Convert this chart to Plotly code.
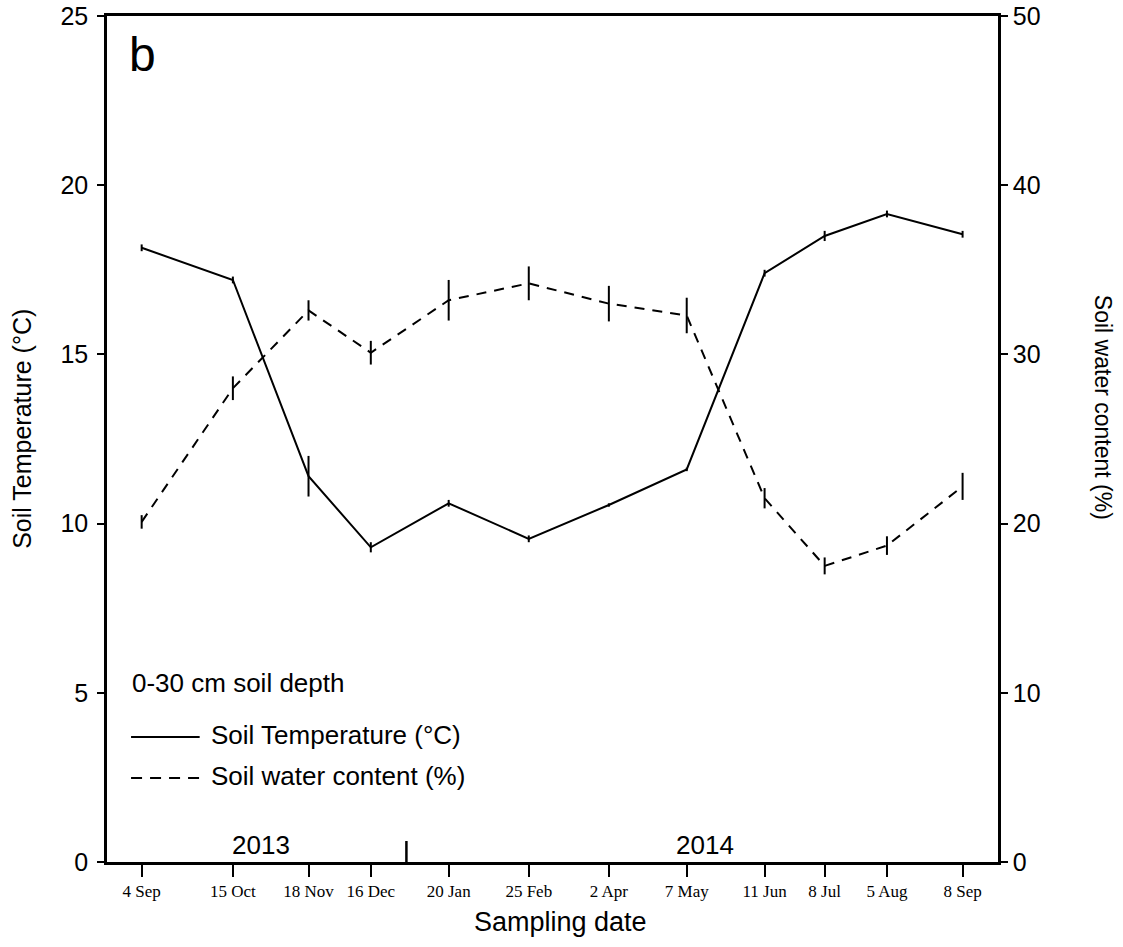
import plotly.graph_objects as go

dates = ["2013-09-04", "2013-10-15", "2013-11-18", "2013-12-16", "2014-01-20", "2014-02-25",
         "2014-04-02", "2014-05-07", "2014-06-11", "2014-07-08", "2014-08-05", "2014-09-08"]
tick_labels = ["4 Sep", "15 Oct", "18 Nov", "16 Dec", "20 Jan", "25 Feb",
               "2 Apr", "7 May", "11 Jun", "8 Jul", "5 Aug", "8 Sep"]
soil_temp = [18.15, 17.2, 11.4, 9.3, 10.6, 9.55, 10.55, 11.6, 17.4, 18.5, 19.15, 18.55]
soil_temp_err = [0.1, 0.1, 0.6, 0.15, 0.1, 0.1, 0.05, 0.05, 0.1, 0.15, 0.1, 0.1]
water = [20.1, 28.0, 32.6, 30.1, 33.2, 34.2, 33.0, 32.3, 21.5, 17.5, 18.7, 22.2]
water_err = [0.4, 0.7, 0.6, 0.7, 1.2, 1.0, 1.05, 1.05, 0.6, 0.5, 0.55, 0.8]

SANS = "Liberation Sans, Arial"
SERIF = "Liberation Serif, Times New Roman"

fig = go.Figure()
fig.add_trace(go.Scatter(
    x=dates, y=soil_temp, mode="lines", name="Soil Temperature (°C)",
    line=dict(color="black", width=2),
    error_y=dict(type="data", array=soil_temp_err, color="black", thickness=2, width=0),
    showlegend=False, yaxis="y"))
fig.add_trace(go.Scatter(
    x=dates, y=water, mode="lines", name="Soil water content (%)",
    line=dict(color="black", width=2, dash="10px,8px"),
    error_y=dict(type="data", array=water_err, color="black", thickness=2, width=0),
    showlegend=False, yaxis="y2"))

tick_font = dict(family=SANS, size=25, color="black")

fig.update_layout(
    width=1123, height=947,
    margin=dict(l=107, r=125, t=16, b=85, autoexpand=False),
    paper_bgcolor="white", plot_bgcolor="white",
    xaxis=dict(
        type="date", range=["2013-08-19 10:00", "2014-09-23 22:00"],
        tickmode="array", tickvals=dates, ticktext=tick_labels,
        tickfont=dict(family=SERIF, size=17, color="black"),
        ticks="outside", ticklen=12, tickwidth=2, tickcolor="black",
        showline=True, linewidth=2.5, linecolor="black", mirror=True,
        showgrid=False, zeroline=False, automargin=False,
    ),
    yaxis=dict(
        range=[0, 25], tickvals=[0, 5, 10, 15, 20, 25],
        tickfont=tick_font, ticks="outside", ticklen=7, tickwidth=2, tickcolor="black",
        showline=True, linewidth=2.5, linecolor="black",
        showgrid=False, zeroline=False, automargin=False,
        ticklabeloverflow="allow", ticklabelstandoff=4,
    ),
    yaxis2=dict(
        range=[0, 50], tickvals=[0, 10, 20, 30, 40, 50], overlaying="y", side="right",
        tickfont=tick_font, ticks="outside", ticklen=7, tickwidth=2, tickcolor="black",
        showline=True, linewidth=2.5, linecolor="black",
        showgrid=False, zeroline=False, automargin=False,
        ticklabeloverflow="allow",
    ),
)

# axis titles
fig.add_annotation(text="Sampling date", xref="paper", yref="paper",
                   x=0.5, y=0.0, xanchor="center", yanchor="middle", xshift=8, yshift=-60,
                   showarrow=False, font=dict(family=SANS, size=27, color="black"))
fig.add_annotation(text="Soil Temperature (°C)", xref="paper", yref="paper",
                   x=0.0, y=0.512, xanchor="center", yanchor="middle", xshift=-85,
                   textangle=-90, showarrow=False, font=dict(family=SANS, size=25, color="black"))
fig.add_annotation(text="Soil water content (%)", xref="paper", yref="paper",
                   x=1.0, y=0.538, xanchor="center", yanchor="middle", xshift=105,
                   textangle=90, showarrow=False, font=dict(family=SANS, size=23, color="black"))

# panel letter
fig.add_annotation(text="b", xref="paper", yref="paper", x=0.040, y=0.954,
                   xanchor="center", yanchor="middle", showarrow=False,
                   font=dict(family=SANS, size=48, color="black"))

# year labels and separator tick
year_font = dict(family=SANS, size=26, color="black")
fig.add_annotation(text="2013", x="2013-10-27 14:00", y=0, xref="x", yref="y", yanchor="middle",
                   yshift=17, showarrow=False, font=year_font)
fig.add_annotation(text="2014", x="2014-05-15", y=0, xref="x", yref="y", yanchor="middle",
                   yshift=17, showarrow=False, font=year_font)
fig.add_shape(type="line", x0="2014-01-01", x1="2014-01-01", y0=0, y1=0.62, xref="x", yref="y",
              line=dict(color="black", width=2.5))

# custom legend
leg_font = dict(family=SANS, size=26, color="black")
fig.add_annotation(text="0-30 cm soil depth", xref="paper", yref="paper", x=0.0258, y=0.2116,
                   xanchor="left", yanchor="middle", showarrow=False, font=leg_font)
fig.add_shape(type="line", xref="paper", yref="paper", x0=0.027, x1=0.104, y0=0.1478, y1=0.1478,
              line=dict(color="black", width=2))
fig.add_annotation(text="Soil Temperature (°C)", xref="paper", yref="paper", x=0.1145, y=0.150,
                   xanchor="left", yanchor="middle", showarrow=False, font=leg_font)
fig.add_shape(type="line", xref="paper", yref="paper", x0=0.027, x1=0.104, y0=0.0993, y1=0.0993,
              line=dict(color="black", width=2, dash="11px,8px"))
fig.add_annotation(text="Soil water content (%)", xref="paper", yref="paper", x=0.1145, y=0.1015,
                   xanchor="left", yanchor="middle", showarrow=False, font=leg_font)

fig.write_html("out.html", config={"displayModeBar": False},
               post_script="document.body.style.margin='0px';")
